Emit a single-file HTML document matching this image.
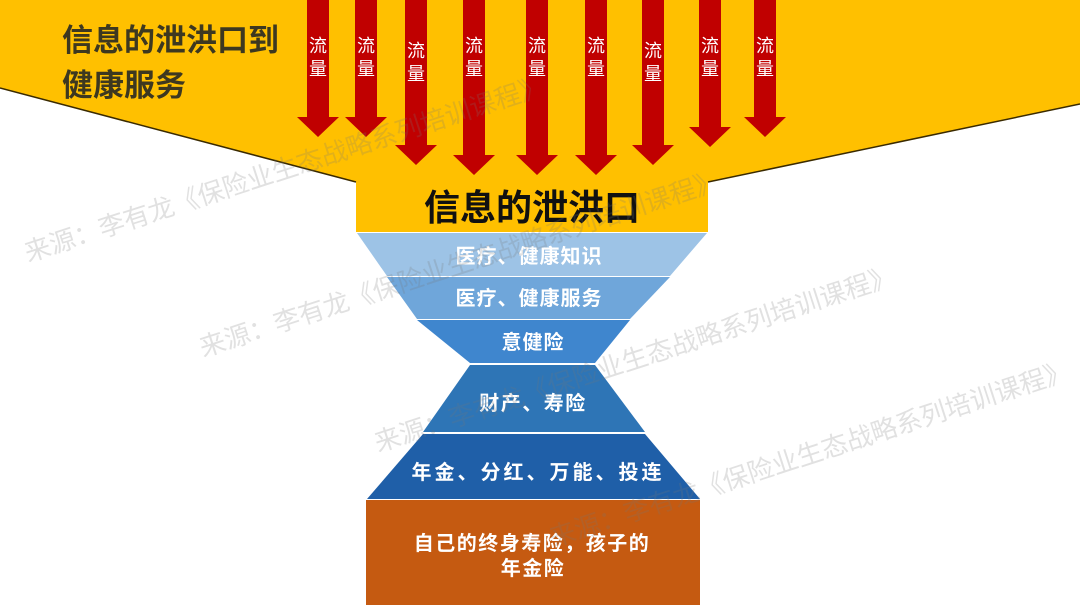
<!DOCTYPE html>
<html><head><meta charset="utf-8"><style>
html,body{margin:0;padding:0;background:#fff;}
svg{display:block;font-family:"Liberation Sans","Noto Sans CJK SC",sans-serif;}
</style></head><body>
<svg width="1080" height="605" viewBox="0 0 1080 605" xmlns="http://www.w3.org/2000/svg">
<polygon points="0,0 1080,0 1080,104 708,182 708,232 356,232 356,182 0,88" fill="#FFC000"/>
<line x1="0" y1="88" x2="356" y2="182" stroke="#3a2a00" stroke-width="1.5"/>
<line x1="708" y1="182" x2="1080" y2="104" stroke="#3a2a00" stroke-width="1.5"/>
<text x="62" y="51" font-size="31" font-weight="bold" fill="#3d3820">信息的泄洪口到</text>
<text x="62" y="96" font-size="31" font-weight="bold" fill="#3d3820">健康服务</text>
<g fill="#C00000">
<polygon points="307,0 329,0 329,117 339,117 318,137 297,117 307,117"/>
<polygon points="355,0 377,0 377,117 387,117 366,137 345,117 355,117"/>
<polygon points="405,0 427,0 427,145 437,145 416,165 395,145 405,145"/>
<polygon points="463,0 485,0 485,155 495,155 474,175 453,155 463,155"/>
<polygon points="526,0 548,0 548,155 558,155 537,175 516,155 526,155"/>
<polygon points="585,0 607,0 607,155 617,155 596,175 575,155 585,155"/>
<polygon points="642,0 664,0 664,145 674,145 653,165 632,145 642,145"/>
<polygon points="699,0 721,0 721,127 731,127 710,147 689,127 699,127"/>
<polygon points="754,0 776,0 776,117 786,117 765,137 744,117 754,117"/>
</g>
<g fill="#fff" font-size="18" text-anchor="middle">
<text x="318" y="52">流</text><text x="318" y="75">量</text>
<text x="366" y="52">流</text><text x="366" y="75">量</text>
<text x="416" y="57">流</text><text x="416" y="80">量</text>
<text x="474" y="52">流</text><text x="474" y="75">量</text>
<text x="537" y="52">流</text><text x="537" y="75">量</text>
<text x="596" y="52">流</text><text x="596" y="75">量</text>
<text x="653" y="57">流</text><text x="653" y="80">量</text>
<text x="710" y="52">流</text><text x="710" y="75">量</text>
<text x="765" y="52">流</text><text x="765" y="75">量</text>
</g>
<text x="532" y="220" font-size="36" font-weight="bold" fill="#111" text-anchor="middle">信息的泄洪口</text>
<g fill="#777" fill-opacity="0.22" font-size="26">
<text transform="translate(28,262) rotate(-18)">来源：李有龙《保险业生态战略系列培训课程》</text>
</g>
<polygon points="357,233 707,233 670,276 387,276" fill="#9DC3E6"/>
<polygon points="387,277 670,277 630,319 417,319" fill="#6FA6DA"/>
<polygon points="417,320 630,320 595,363 470,363" fill="#3F86CE"/>
<polygon points="470,365 595,365 645,432 423,432" fill="#2E75B6"/>
<polygon points="423,434 645,434 700,499 367,499" fill="#1F5FA8"/>
<rect x="366" y="500" width="334" height="105" fill="#C55A11"/>
<g fill="#fff" font-weight="bold" text-anchor="middle" font-size="20">
<text x="529" y="263" letter-spacing="1">医疗、健康知识</text>
<text x="529" y="305" letter-spacing="1">医疗、健康服务</text>
<text x="533" y="349" letter-spacing="1">意健险</text>
<text x="533" y="410" letter-spacing="1.5">财产、寿险</text>
<text x="538" y="479" letter-spacing="3">年金、分红、万能、投连</text>
<text x="532" y="550" letter-spacing="1.5">自己的终身寿险，孩子的</text>
<text x="533" y="575" letter-spacing="1.5">年金险</text>
</g>
<g fill="#777" fill-opacity="0.22" font-size="26">
<text transform="translate(203,357) rotate(-18)">来源：李有龙《保险业生态战略系列培训课程》</text>
<text transform="translate(378,452) rotate(-18)">来源：李有龙《保险业生态战略系列培训课程》</text>
<text transform="translate(553,547) rotate(-18)">来源：李有龙《保险业生态战略系列培训课程》</text>
</g>
</svg>
</body></html>
